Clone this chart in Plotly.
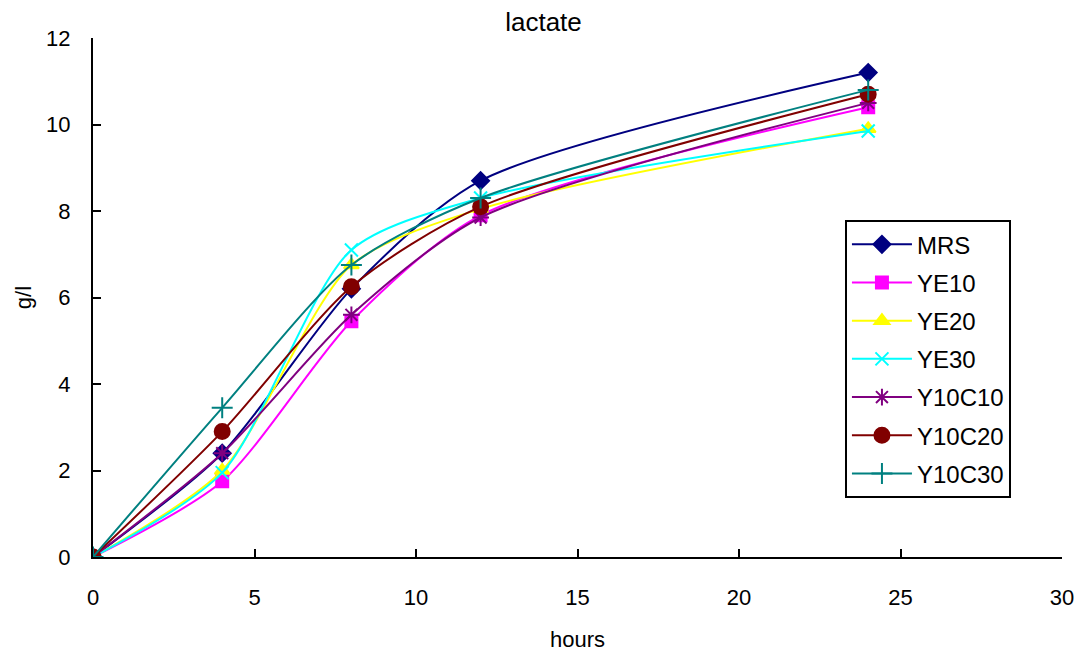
import plotly.graph_objects as go

hours = [0, 4, 8, 12, 24]

mrs = [0, 2.4, 6.2, 8.7, 11.2]
ye10 = [0, 1.75, 5.45, 7.9, 10.4]
ye20 = [0, 2.0, 6.75, 8.05, 9.9]
ye30 = [0, 1.95, 7.1, 8.3, 9.85]
y10c10 = [0, 2.4, 5.6, 7.85, 10.5]
y10c20 = [0, 2.9, 6.25, 8.1, 10.7]
y10c30 = [0, 3.45, 6.75, 8.3, 10.8]

series = [
    ("MRS", mrs, "#000080", "diamond", 13),
    ("YE10", ye10, "#FF00FF", "square", 12),
    ("YE20", ye20, "#FFFF00", "triangle-up", 13),
    ("YE30", ye30, "#00FFFF", "x-thin", 13),
    ("Y10C10", y10c10, "#800080", "asterisk", 14),
    ("Y10C20", y10c20, "#800000", "circle", 15),
    ("Y10C30", y10c30, "#008080", "cross-thin", 15),
]

font_family = "Liberation Sans, Arial, sans-serif"

fig = go.Figure()
for name, vals, color, symbol, size in series:
    fig.add_trace(go.Scatter(
        x=hours, y=vals, name=name, legendgroup=name, mode="lines+markers",
        line=dict(color=color, width=2, shape="spline", smoothing=0.75),
        marker=dict(symbol=symbol, size=size, color=color,
                    line=dict(color=color, width=2)),
    ))

fig.update_layout(
    width=1087, height=661,
    margin=dict(l=93, r=25, t=38, b=104),
    paper_bgcolor="white", plot_bgcolor="white",
    font=dict(family=font_family, size=22, color="black"),
    title=dict(text="lactate", x=0.5, xanchor="center", y=0.967, yanchor="middle"),
    title_font=dict(family=font_family, size=26, color="black"),
    showlegend=True,
    legend=dict(
        x=0.776, xanchor="left", y=0.649, yanchor="top",
        bordercolor="black", borderwidth=2, bgcolor="white",
        font=dict(family=font_family, size=24), tracegroupgap=4,
        itemwidth=60,
    ),
)
fig.update_xaxes(
    range=[0, 30], dtick=5, showgrid=False, zeroline=False,
    showline=True, linecolor="black", linewidth=2,
    ticks="inside", ticklen=8, tickwidth=2, tickcolor="black",
    ticklabelstandoff=20,
    title=dict(text="hours", standoff=22, font=dict(size=22)),
    tickfont=dict(size=22),
)
fig.update_yaxes(
    range=[0, 12], dtick=2, showgrid=False, zeroline=False,
    showline=True, linecolor="black", linewidth=2,
    ticks="inside", ticklen=8, tickwidth=2, tickcolor="black",
    ticklabelstandoff=16,
    title=dict(text="g/l", standoff=8, font=dict(size=22)),
    tickfont=dict(size=22),
)

fig.write_html("out.html")
